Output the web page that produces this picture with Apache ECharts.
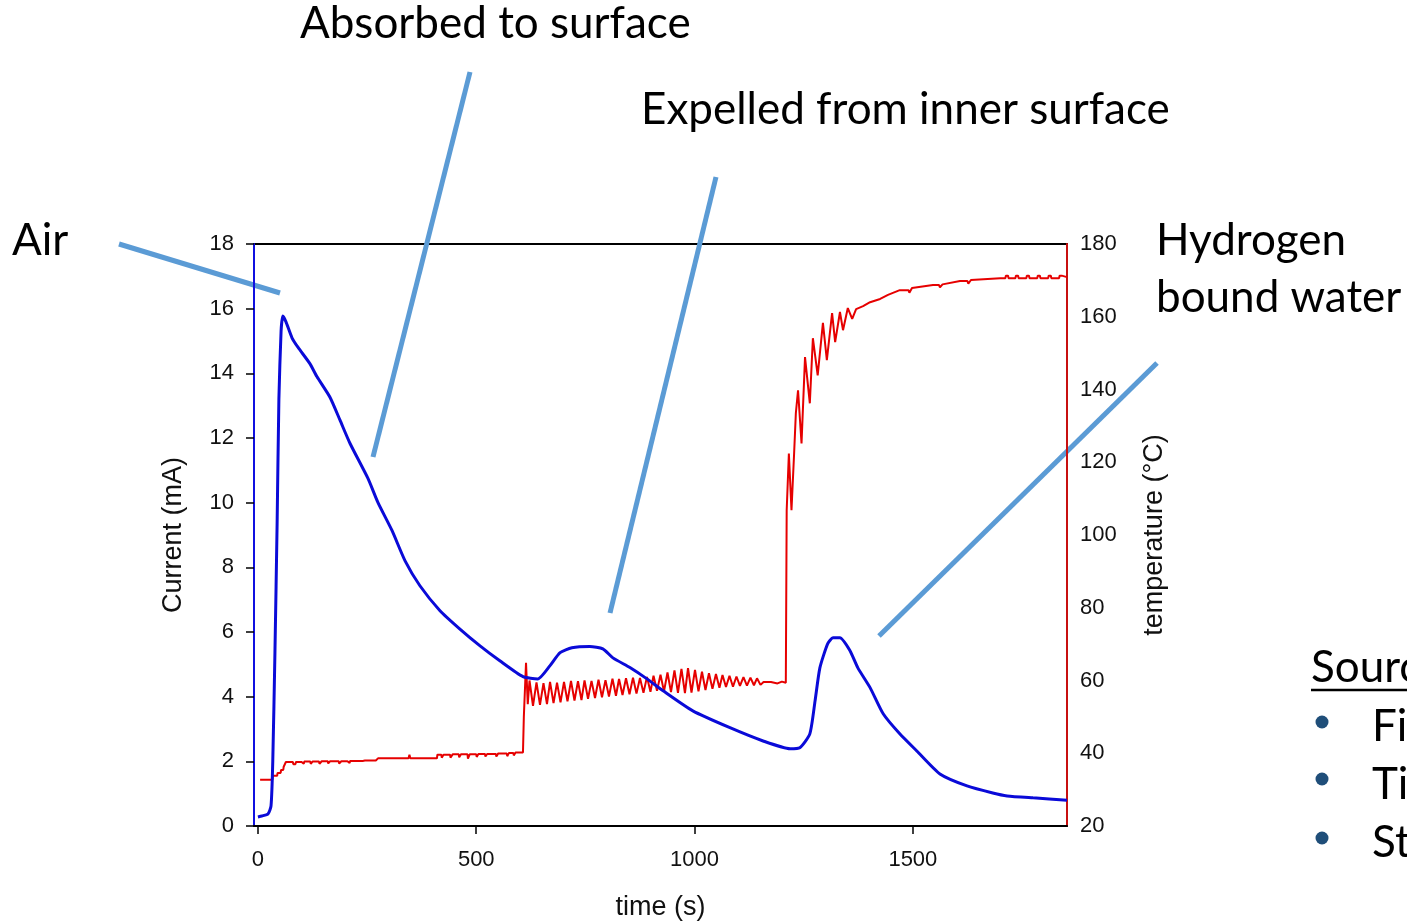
<!DOCTYPE html>
<html>
<head>
<meta charset="utf-8">
<script src="https://cdn.jsdelivr.net/npm/echarts@6/dist/echarts.min.js"></script>
<style>
html, body { margin: 0; padding: 0; background: #fff; }
#chart { width: 1407px; height: 921px; overflow: hidden; }
</style>
</head>
<body>
<div id="chart"></div>
<script>
// values: [time (s), value]
var timeTicks = [0, 500, 1000, 1500];

var current = [
  [0, 0.28], [9, 0.31], [23, 0.37], [30, 0.62], [34, 2.0], [39, 5.4], [44, 9.4],
  [48, 13.2], [53, 15.3], [57, 15.77], [64, 15.6], [78, 15.1], [92, 14.8],
  [119, 14.3], [135, 13.9], [165, 13.26], [188, 12.55], [211, 11.83], [252, 10.75],
  [275, 10.0], [307, 9.14], [337, 8.2], [371, 7.43], [417, 6.66], [462, 6.1],
  [508, 5.58], [554, 5.11], [607, 4.62], [641, 4.55], [669, 4.96], [692, 5.36],
  [719, 5.51], [760, 5.55], [790, 5.48], [813, 5.2], [852, 4.9], [891, 4.55],
  [928, 4.18], [996, 3.56], [1081, 3.04], [1157, 2.63], [1219, 2.39], [1241, 2.42],
  [1264, 2.85], [1276, 3.87], [1287, 4.89], [1305, 5.64], [1317, 5.82], [1333, 5.82],
  [1356, 5.42], [1374, 4.89], [1402, 4.28], [1432, 3.47], [1470, 2.85], [1509, 2.32],
  [1562, 1.61], [1624, 1.24], [1683, 1.02], [1716, 0.93], [1775, 0.87], [1853, 0.8]
];

var temperature = [
  [5, 32.7], [33, 32.7], [34, 33.8], [44, 33.8], [45, 34.6], [52, 34.6], [53, 35.4],
  [58, 35.4], [59, 36.3], [63, 36.3], [64, 37.6], [80, 37.6], [81, 37.0], [86, 37.0],
  [87, 37.6], [100, 37.6], [101, 37.1], [105, 37.1], [106, 37.7], [120, 37.7],
  [121, 37.1], [124, 37.1], [125, 37.7], [140, 37.7], [141, 37.1], [145, 37.1],
  [146, 37.8], [160, 37.8], [161, 37.2], [164, 37.2], [165, 37.8], [185, 37.8],
  [186, 37.2], [190, 37.2], [191, 37.8], [205, 37.8], [206, 37.3], [210, 37.3],
  [211, 37.9], [240, 37.9], [241, 37.4], [244, 37.4], [245, 38.0], [270, 38.0],
  [271, 37.5], [274, 37.5], [275, 38.6], [345, 38.6], [347, 39.6], [349, 38.6],
  [410, 38.6], [411, 39.6], [420, 39.6], [421, 38.8], [424, 38.8], [425, 39.6],
  [440, 39.6], [441, 38.8], [445, 38.8], [446, 39.7], [460, 39.7], [461, 38.9],
  [464, 38.9], [465, 39.7], [480, 39.7], [481, 38.5], [484, 38.5], [485, 39.7],
  [500, 39.7], [501, 39.0], [504, 39.0], [505, 39.8], [520, 39.8], [521, 39.1],
  [524, 39.1], [525, 39.8], [545, 39.8], [546, 39.1], [549, 39.1], [550, 39.9],
  [570, 39.9], [571, 39.2], [574, 39.2], [575, 40.1], [585, 40.1], [586, 39.4],
  [589, 39.4], [590, 40.2], [607, 40.2],
  [609, 50.0], [614, 64.9], [618, 53.5], [622, 60.0], [630, 53.0], [638, 59.5],
  [646, 53.3], [654, 59.3], [662, 53.5], [669, 59.6], [677, 53.8], [685, 59.4],
  [693, 54.0], [701, 59.6], [709, 54.3], [717, 59.9], [725, 54.5], [733, 59.8],
  [741, 54.6], [748, 60.0], [756, 55.0], [764, 59.9], [772, 55.2], [780, 60.2],
  [788, 55.4], [796, 60.1], [804, 55.6], [812, 60.5], [820, 55.8], [827, 60.4],
  [835, 56.0], [843, 60.6], [851, 56.2], [859, 60.8], [867, 56.4], [875, 60.7],
  [883, 56.6], [891, 61.0], [899, 56.9], [906, 61.3], [914, 57.2], [922, 61.6],
  [930, 57.0], [938, 62.2], [946, 56.8], [954, 62.8], [962, 56.6], [970, 63.2],
  [978, 56.5], [985, 63.4], [993, 56.7], [1001, 62.9], [1009, 57.0], [1017, 62.4],
  [1025, 57.4], [1033, 62.0], [1041, 57.7], [1049, 61.8], [1057, 58.0], [1064, 61.5],
  [1072, 58.2], [1080, 61.3], [1088, 58.3], [1096, 61.1], [1104, 58.5], [1112, 60.9],
  [1120, 58.6], [1128, 60.8], [1136, 58.7], [1143, 60.6], [1151, 58.8], [1158, 59.6],
  [1175, 59.6], [1176, 59.2], [1190, 59.2], [1191, 59.7], [1200, 59.7], [1201, 59.4],
  [1209, 59.4],
  [1211, 106.8], [1216, 122.4], [1222, 106.8], [1228, 122.4], [1232, 133.5],
  [1237, 139.8], [1245, 125.2], [1253, 148.9], [1264, 136.2], [1271, 154.1],
  [1282, 143.9], [1294, 158.3], [1303, 148.1], [1315, 161.0], [1322, 153.0],
  [1333, 161.3], [1340, 156.3], [1351, 162.4], [1361, 159.4], [1370, 162.1],
  [1386, 162.9], [1402, 164.0], [1425, 164.9], [1443, 166.0], [1470, 167.3],
  [1490, 167.3], [1492, 166.6], [1496, 166.6], [1498, 167.9], [1546, 168.7],
  [1560, 168.7], [1562, 168.1], [1566, 168.1], [1568, 168.9], [1608, 169.8],
  [1625, 169.8], [1627, 169.1], [1631, 169.1], [1633, 170.1], [1700, 170.6],
  [1712, 170.6], [1713, 171.3], [1718, 171.3], [1719, 170.6], [1735, 170.6],
  [1736, 171.3], [1741, 171.3], [1742, 170.6], [1760, 170.6], [1761, 171.3],
  [1766, 171.3], [1767, 170.6], [1785, 170.6], [1786, 171.3], [1791, 171.3],
  [1792, 170.6], [1810, 170.6], [1811, 171.3], [1816, 171.3], [1817, 170.6],
  [1835, 170.6], [1836, 171.3], [1841, 171.3], [1842, 170.9], [1853, 170.9]
];

var chart = echarts.init(document.getElementById('chart'));

var calloutColor = '#5b9bd5';
var noteFont = 'Lato';
var axisFont = 'Liberation Sans';

function note(text, x, y) {
  return {
    type: 'text',
    style: {
      text: text, x: x, y: y,
      fontFamily: noteFont, fontSize: 44, fill: '#000',
      align: 'left', verticalAlign: 'middle'
    }
  };
}

function callout(x1, y1, x2, y2) {
  return {
    type: 'line',
    shape: { x1: x1, y1: y1, x2: x2, y2: y2 },
    style: { stroke: calloutColor, lineWidth: 5 }
  };
}

function bullet(y) {
  return { type: 'circle', shape: { cx: 1322, cy: y, r: 6.5 }, style: { fill: '#1f4e79' } };
}

var option = {
  animation: false,
  backgroundColor: '#fff',
  grid: {
    left: 254, top: 244, width: 813, height: 582,
    outerBoundsMode: 'none',
    containLabel: false,
    show: true, borderColor: '#000', borderWidth: 2
  },
  xAxis: {
    type: 'value',
    min: -9,
    max: 1853,
    name: 'time (s)',
    nameLocation: 'middle',
    nameGap: 68,
    nameTextStyle: { fontFamily: axisFont, fontSize: 27, color: '#111' },
    axisLine: { onZero: false, lineStyle: { color: '#000', width: 2 } },
    axisTick: { customValues: timeTicks, length: 8, lineStyle: { color: '#000', width: 1.5 } },
    axisLabel: {
      customValues: timeTicks, margin: 23,
      fontFamily: axisFont, fontSize: 22, color: '#111',
      formatter: function (v) { return String(v); }
    },
    splitLine: { show: false }
  },
  yAxis: [
    {
      type: 'value',
      min: 0, max: 18, interval: 2,
      name: 'Current (mA)',
      nameLocation: 'middle',
      nameRotate: 90,
      nameGap: 67,
      nameTextStyle: { fontFamily: axisFont, fontSize: 27, color: '#111' },
      axisLine: { show: true, onZero: false, lineStyle: { color: '#1010e0', width: 2 } },
      axisTick: { show: true, length: 8, lineStyle: { color: '#000', width: 1.5 } },
      axisLabel: { margin: 20, fontFamily: axisFont, fontSize: 22, color: '#111' },
      splitLine: { show: false }
    },
    {
      type: 'value',
      position: 'right',
      min: 20, max: 180, interval: 20,
      name: 'temperature (°C)',
      nameLocation: 'middle',
      nameRotate: 90,
      nameGap: 74,
      nameTextStyle: { fontFamily: axisFont, fontSize: 27, color: '#111' },
      axisLine: { show: true, onZero: false, lineStyle: { color: '#c81010', width: 2 } },
      axisTick: { show: false },
      axisLabel: { margin: 13, fontFamily: axisFont, fontSize: 22, color: '#111' },
      splitLine: { show: false }
    }
  ],
  series: [
    {
      name: 'Current',
      type: 'line',
      data: current,
      showSymbol: false,
      smooth: 0.2,
      lineStyle: { color: '#0a0ad8', width: 3 },
      z: 3
    },
    {
      name: 'Temperature',
      type: 'line',
      yAxisIndex: 1,
      data: temperature,
      showSymbol: false,
      lineStyle: { color: '#e60000', width: 2 },
      z: 2
    }
  ],
  graphic: [
    note('Absorbed to surface', 300, 24),
    note('Expelled from inner surface', 641, 110),
    note('Air', 12, 241),
    note('Hydrogen', 1156, 241),
    note('bound water', 1156, 298),
    note('Source', 1311, 668),
    { type: 'line', shape: { x1: 1311, y1: 690, x2: 1407, y2: 690 }, style: { stroke: '#000', lineWidth: 2.5 } },
    bullet(722), bullet(779), bullet(838),
    note('Fix', 1372, 727),
    note('Tis', 1372, 785),
    note('St', 1372, 843),
    callout(119, 244, 280, 293),
    callout(470, 72, 373, 457),
    callout(716, 177, 610, 613),
    callout(1157, 363, 879, 636)
  ]
};

chart.setOption(option);
</script>
</body>
</html>
